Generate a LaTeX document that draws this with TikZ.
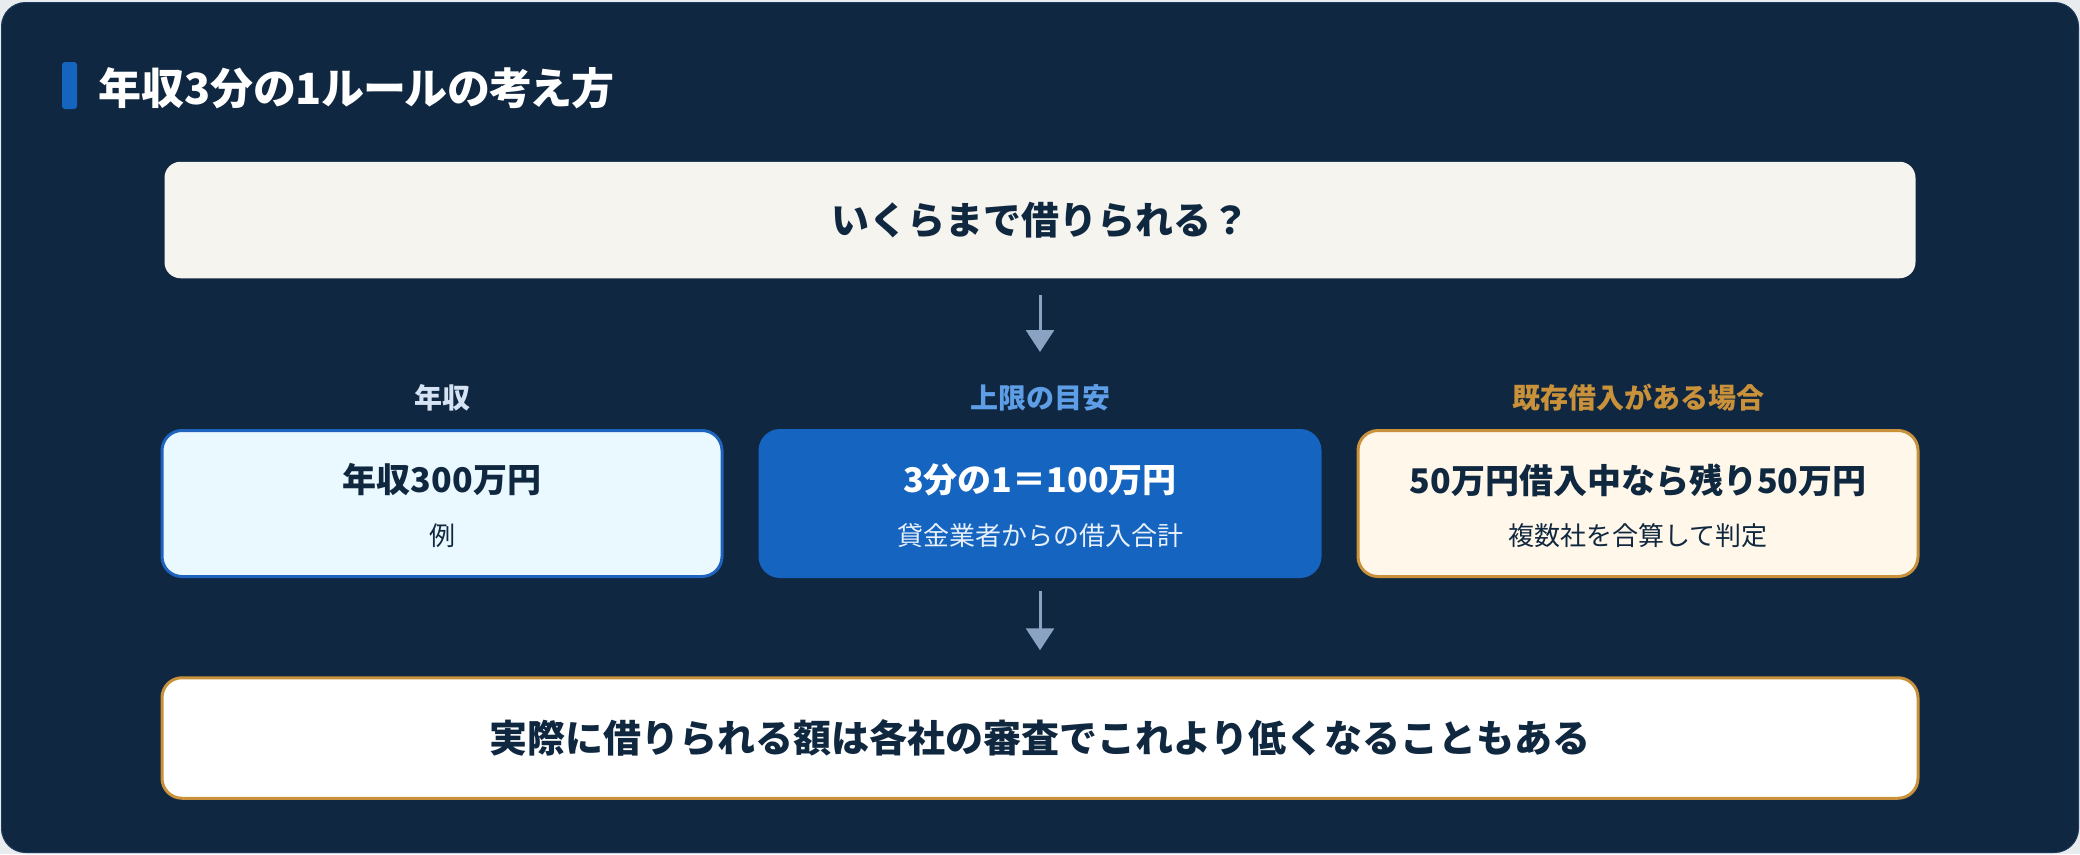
\documentclass[tikz,border=0pt]{standalone}
\usepackage{fontspec}
\newfontfamily\jp{Noto Sans CJK JP}
\newfontfamily\jpp[RawFeature=+palt]{Noto Sans CJK JP}
\usetikzlibrary{arrows.meta}
\definecolor{pagecol}{HTML}{E9ECEF}
\definecolor{bgcol}{HTML}{0F2740}
\definecolor{bgborder}{HTML}{1E3A5C}
\definecolor{accent}{HTML}{1565C0}
\definecolor{topfill}{HTML}{F5F4EF}
\definecolor{navytext}{HTML}{10283F}
\definecolor{arrowcol}{HTML}{8AA3C2}
\definecolor{labone}{HTML}{D5E3F5}
\definecolor{labtwo}{HTML}{5E9EE6}
\definecolor{labthree}{HTML}{C9913A}
\definecolor{boxonefill}{HTML}{EAF8FF}
\definecolor{boxoneline}{HTML}{1E64BE}
\definecolor{boxtwofill}{HTML}{1565C0}
\definecolor{boxthreefill}{HTML}{FFF7E9}
\definecolor{gold}{HTML}{C8913A}
\definecolor{subwhite}{HTML}{E8F0FA}
\begin{document}
\begin{tikzpicture}[x=1pt,y=-1pt,
  every node/.style={inner sep=0pt, outer sep=0pt},
  card/.style={rounded corners=20pt, minimum width=560pt, minimum height=146pt, line width=3pt},
  lab/.style={font=\jp\bfseries\fontsize{28}{32}\selectfont},
  maintext/.style={font=\jp\bfseries\fontsize{34}{40}\selectfont, text=navytext},
  subtext/.style={font=\jp\fontsize{26}{30}\selectfont, text=navytext},
  arr/.style={draw=arrowcol, line width=3pt, -{Triangle[width=28pt,length=22pt]}}
]
\useasboundingbox (0,0) rectangle (2080,854);
\fill[pagecol] (0,0) rectangle (2080,854);
\draw[draw=bgborder, fill=bgcol, line width=1pt, rounded corners=24pt] (1.5,2.5) rectangle (2078.5,852.5);

% title
\node[fill=accent, rounded corners=3pt, minimum width=15pt, minimum height=47pt] (bar) at (69.5,85.5) {};
\node[anchor=west, text=white, font=\jpp\bfseries\fontsize{43}{52}\selectfont] (title) at (98,88) {年収3分の1ルールの考え方};

% question box
\node[fill=topfill, rounded corners=16pt, minimum width=1751pt, minimum height=116.5pt,
      font=\jp\bfseries\fontsize{38}{44}\selectfont, text=navytext] (q) at (1040,220) {いくらまで借りられる？};

% labels
\node[lab, text=labone] (lab1) at (442,398) {年収};
\node[lab, text=labtwo] (lab2) at (1040,398) {上限の目安};
\node[lab, text=labthree] (lab3) at (1638,398) {既存借入がある場合};

% cards
\node[card, draw=boxoneline, fill=boxonefill] (b1) at (442,503.5) {};
\node[card, draw=boxtwofill, fill=boxtwofill] (b2) at (1040,503.5) {};
\node[card, draw=gold, fill=boxthreefill] (b3) at (1638,503.5) {};

\node[maintext] (m1) at (442,480) {年収300万円};
\node[subtext] (s1) at (442,536) {例};
\node[maintext, text=white] (m2) at (1040,480) {3分の1＝100万円};
\node[subtext, text=subwhite] (s2) at (1040,536) {貸金業者からの借入合計};
\node[maintext] (m3) at (1638,480) {50万円借入中なら残り50万円};
\node[subtext] (s3) at (1638,536) {複数社を合算して判定};

% result box
\node[draw=gold, fill=white, line width=3pt, rounded corners=20pt, minimum width=1756pt, minimum height=120.5pt,
      font=\jp\bfseries\fontsize{38}{44}\selectfont, text=navytext] (res) at (1040,738) {実際に借りられる額は各社の審査でこれより低くなることもある};

% arrows
\coordinate (a1end) at (1040,352);
\draw[arr, shorten <=17pt] (q) -- (a1end);
\draw[arr, shorten <=14pt, shorten >=27.5pt] (b2) -- (res);
\end{tikzpicture}
\end{document}
